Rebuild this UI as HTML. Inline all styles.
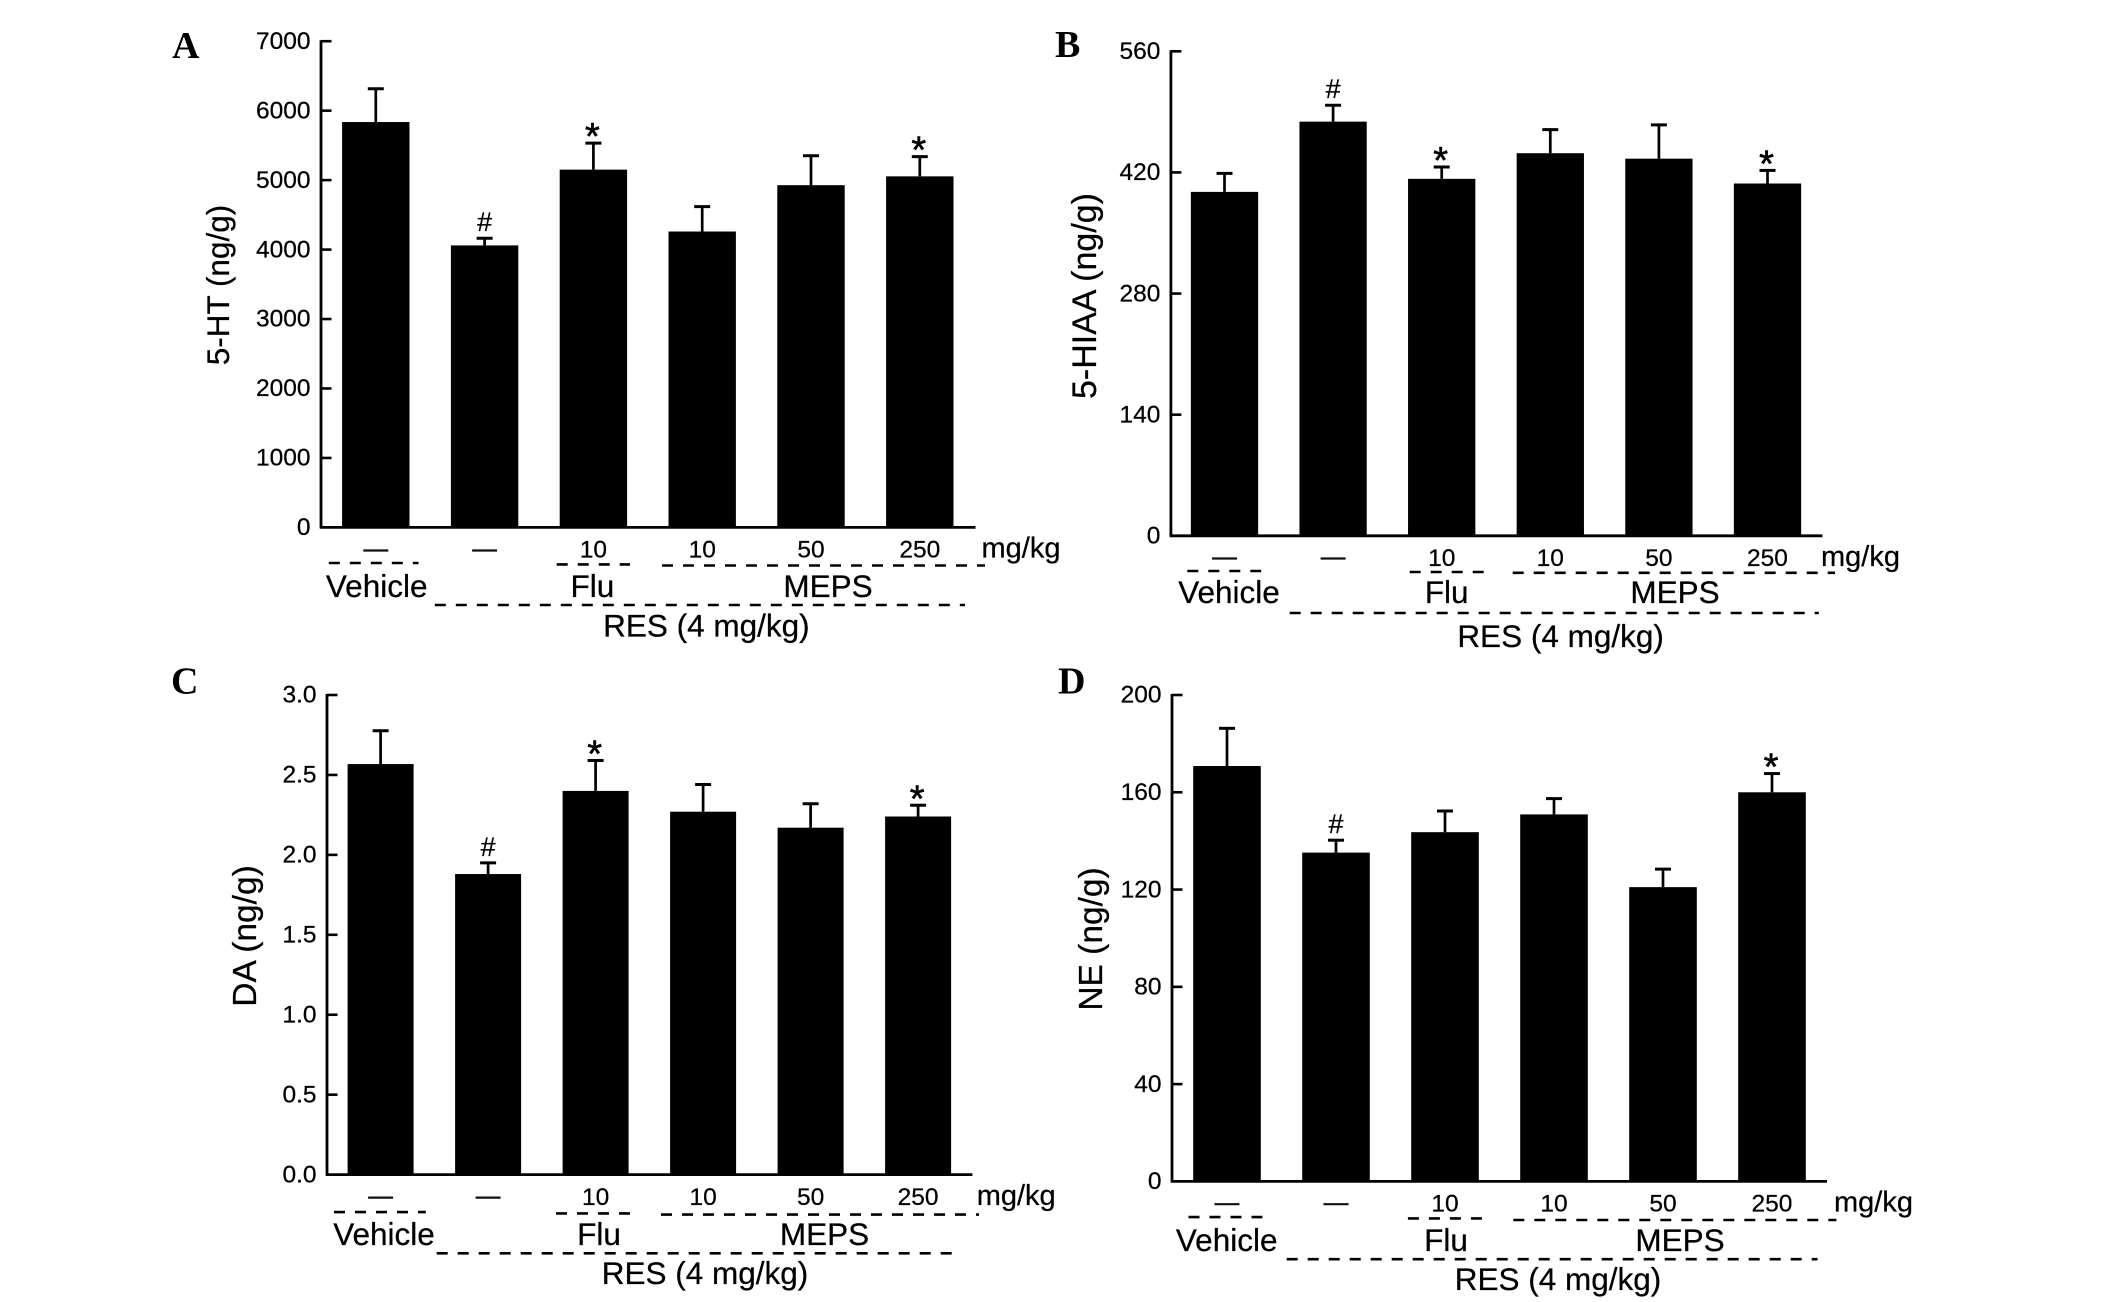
<!DOCTYPE html>
<html lang="en">
<head>
<meta charset="utf-8">
<title>Monoamine levels by treatment group</title>
<style>
html,body{margin:0;padding:0;background:#fff;}
svg{display:block;}
text{font-family:"Liberation Sans",Arial,sans-serif;fill:#000;stroke:#000;stroke-width:0.25px;}
text.letter{font-family:"Liberation Serif","Times New Roman",serif;font-weight:bold;font-size:38px;stroke:none;}
</style>
</head>
<body>
<svg id="figure" xmlns="http://www.w3.org/2000/svg" width="2126" height="1302" viewBox="0 0 2126 1302"></svg>
<script>
// ---- Data ----
const groupCategories = ['Vehicle', 'RES', 'RES + Flu 10', 'RES + MEPS 10', 'RES + MEPS 50', 'RES + MEPS 250'];
const doseLabels = ['—', '—', '10', '10', '50', '250'];

const htValues = [5836, 4060, 5151, 4260, 4927, 5054];
const htErrors = [479, 103, 382, 358, 424, 285];
const htMarks = ['', '#', '*', '', '', '*'];
const htTicks = ['0', '1000', '2000', '3000', '4000', '5000', '6000', '7000'];

const hiaaValues = [397.5, 478.7, 412.6, 442.2, 435.9, 407.2];
const hiaaErrors = [21.4, 19, 13.6, 27.3, 39, 15.1];
const hiaaMarks = ['', '#', '*', '', '', '*'];
const hiaaTicks = ['0', '140', '280', '420', '560'];

const daValues = [2.568, 1.88, 2.40, 2.27, 2.17, 2.24];
const daErrors = [0.208, 0.07, 0.19, 0.17, 0.15, 0.07];
const daMarks = ['', '#', '*', '', '', '*'];
const daTicks = ['0.0', '0.5', '1.0', '1.5', '2.0', '2.5', '3.0'];

const neValues = [170.8, 135.2, 143.6, 150.9, 121, 160];
const neErrors = [15.5, 5.1, 8.7, 6.5, 7.4, 7.7];
const neMarks = ['', '#', '', '', '', '*'];
const neTicks = ['0', '40', '80', '120', '160', '200'];

// ---- Panel layout ----
const panels = [
  {id:'a', letter:'A', letterX:172, letterY:58, title:'5-HT (ng/g)', titleSize:31.5, titleX:229, titleY:285,
   values:htValues, errors:htErrors, marks:htMarks, ticks:htTicks,
   axisX:321, top:41.2, base:527.4, right:975.5, first:375.8, step:108.8, barW:67.4,
   doseY:557.7, dashY:550.5, unitX:981.5, labelY:597, resY:636.4,
   vehX:376.7, fluX:592.4, mepsX:828, resX:706.4,
   vehDash:[328.8,418.5,563], fluDash:[556.7,630,564.4], mepsDash:[662,985,565.5], resDash:[434.8,965,605]},
  {id:'b', letter:'B', letterX:1055, letterY:57, title:'5-HIAA (ng/g)', titleSize:34, titleX:1096, titleY:296,
   values:hiaaValues, errors:hiaaErrors, marks:hiaaMarks, ticks:hiaaTicks,
   axisX:1170.9, top:51.3, base:535.8, right:1822.4, first:1224.5, step:108.6, barW:67.3,
   doseY:566, dashY:558.5, unitX:1821, labelY:603, resY:647,
   vehX:1229, fluX:1446.7, mepsX:1675, resX:1560.6,
   vehDash:[1187.3,1261.2,571], fluDash:[1409.7,1484,572], mepsDash:[1512.7,1835,572.8], resDash:[1289.7,1818.8,613]},
  {id:'c', letter:'C', letterX:171, letterY:693.5, title:'DA (ng/g)', titleSize:33.5, titleX:256, titleY:936,
   values:daValues, errors:daErrors, marks:daMarks, ticks:daTicks,
   axisX:327, top:695, base:1174.6, right:972.4, first:380.6, step:107.5, barW:66,
   doseY:1205.1, dashY:1197.6, unitX:976.7, labelY:1245, resY:1284,
   vehX:384, fluX:599, mepsX:824.5, resX:705,
   vehDash:[334,425.8,1212.1], fluDash:[556,630,1213.4], mepsDash:[661,979,1214.6], resDash:[436.7,960,1253.3]},
  {id:'d', letter:'D', letterX:1058, letterY:693.5, title:'NE (ng/g)', titleSize:33.5, titleX:1102, titleY:939,
   values:neValues, errors:neErrors, marks:neMarks, ticks:neTicks,
   axisX:1172, top:695, base:1181.4, right:1827, first:1227, step:109, barW:67.6,
   doseY:1211.4, dashY:1204.2, unitX:1834, labelY:1251, resY:1290.2,
   vehX:1226.7, fluX:1446, mepsX:1680, resX:1558,
   vehDash:[1188.5,1262.4,1217.1], fluDash:[1407.9,1482.4,1218.4], mepsDash:[1513.3,1836.4,1220], resDash:[1286.7,1817.6,1259.2]}
];

const SVG_NS = 'http://www.w3.org/2000/svg';
const figure = document.getElementById('figure');

function make(parent, tag, attrs, content) {
  const node = document.createElementNS(SVG_NS, tag);
  for (const key in attrs) node.setAttribute(key, attrs[key]);
  if (content !== undefined) node.textContent = content;
  parent.appendChild(node);
  return node;
}

function drawPanel(p) {
  const maxTick = parseFloat(p.ticks[p.ticks.length - 1]);
  const yScale = function (v) { return p.base - (v / maxTick) * (p.base - p.top); };
  const xBand = function (i) { return p.first + i * p.step; };

  const g = make(figure, 'g', {});
  
  

  const letter = make(g, 'text', {x:p.letterX, y:p.letterY, 'class':'letter'}, p.letter);
  
  

  // bars and error bars
  p.values.forEach(function (value, i) {
    const cx = xBand(i);
    const topY = yScale(value);
    const errY = yScale(value + p.errors[i]);

    const stem = make(g, 'line', {x1:cx, x2:cx, y1:topY, y2:errY, stroke:'#000', 'stroke-width':2.7});
    
    

    const cap = make(g, 'line', {x1:cx - 8, x2:cx + 8, y1:errY, y2:errY, stroke:'#000', 'stroke-width':3});
    
    

    const bar = make(g, 'rect', {x:cx - p.barW / 2, y:topY, width:p.barW, height:p.base - topY, fill:'#000'});
    
    

    const mark = p.marks[i];
    if (mark === '#') {
      const hash = make(g, 'text', {x:cx, y:errY - 7, 'text-anchor':'middle', 'font-size':27}, mark);
      
      
    } else if (mark === '*') {
      const star = make(g, 'text', {x:cx - 1, y:errY + 6, 'text-anchor':'middle', 'font-size':38, 'style':'stroke-width:0.6px'}, mark);
      
      
    }

    // dose row
    const dose = doseLabels[i];
    if (dose === '—') {
      const dash = make(g, 'line', {x1:cx - 12.5, x2:cx + 12.5, y1:p.dashY, y2:p.dashY, stroke:'#111', 'stroke-width':2.2});
      
      
    } else {
      const doseText = make(g, 'text', {x:cx, y:p.doseY, 'text-anchor':'middle', 'font-size':24.5}, dose);
      
      
    }
  });

  // y axis
  const yAxis = make(g, 'line', {x1:p.axisX, x2:p.axisX, y1:p.top - 1, y2:p.base + 1, stroke:'#000', 'stroke-width':2.8});
  
  

  const xAxis = make(g, 'line', {x1:p.axisX - 1, x2:p.right, y1:p.base, y2:p.base, stroke:'#000', 'stroke-width':2.8});
  
  

  p.ticks.forEach(function (label) {
    const y = yScale(parseFloat(label));
    if (parseFloat(label) !== 0) {
      const tick = make(g, 'line', {x1:p.axisX, x2:p.axisX + 10.5, y1:y, y2:y, stroke:'#000', 'stroke-width':2.6});
      
      
    }
    const tickText = make(g, 'text', {x:p.axisX - 10.5, y:y + 7.7, 'text-anchor':'end', 'font-size':24.5}, label);
    
    
  });

  const title = make(g, 'text', {x:0, y:0, 'text-anchor':'middle', 'font-size':p.titleSize,
    transform:'translate(' + p.titleX + ' ' + p.titleY + ') rotate(-90)'}, p.title);
  
  

  const unit = make(g, 'text', {x:p.unitX, y:p.doseY, 'font-size':29}, 'mg/kg');
  
  

  // group brackets
  const brackets = [
    [p.vehDash, 'vehicle-bracket'],
    [p.fluDash, 'flu-bracket'],
    [p.mepsDash, 'meps-bracket'],
    [p.resDash, 'res-bracket']
  ];
  brackets.forEach(function (b) {
    const line = make(g, 'line', {x1:b[0][0], x2:b[0][1], y1:b[0][2], y2:b[0][2], stroke:'#000', 'stroke-width':2.6, 'stroke-dasharray':'11 10'});
    
    
  });

  const veh = make(g, 'text', {x:p.vehX, y:p.labelY, 'text-anchor':'middle', 'font-size':31.5}, 'Vehicle');
  
  

  const flu = make(g, 'text', {x:p.fluX, y:p.labelY, 'text-anchor':'middle', 'font-size':31.5}, 'Flu');
  
  

  const meps = make(g, 'text', {x:p.mepsX, y:p.labelY, 'text-anchor':'middle', 'font-size':31.5}, 'MEPS');
  
  

  const res = make(g, 'text', {x:p.resX, y:p.resY, 'text-anchor':'middle', 'font-size':31.5}, 'RES (4 mg/kg)');
  
  
}

panels.forEach(drawPanel);
</script>
</body>
</html>
